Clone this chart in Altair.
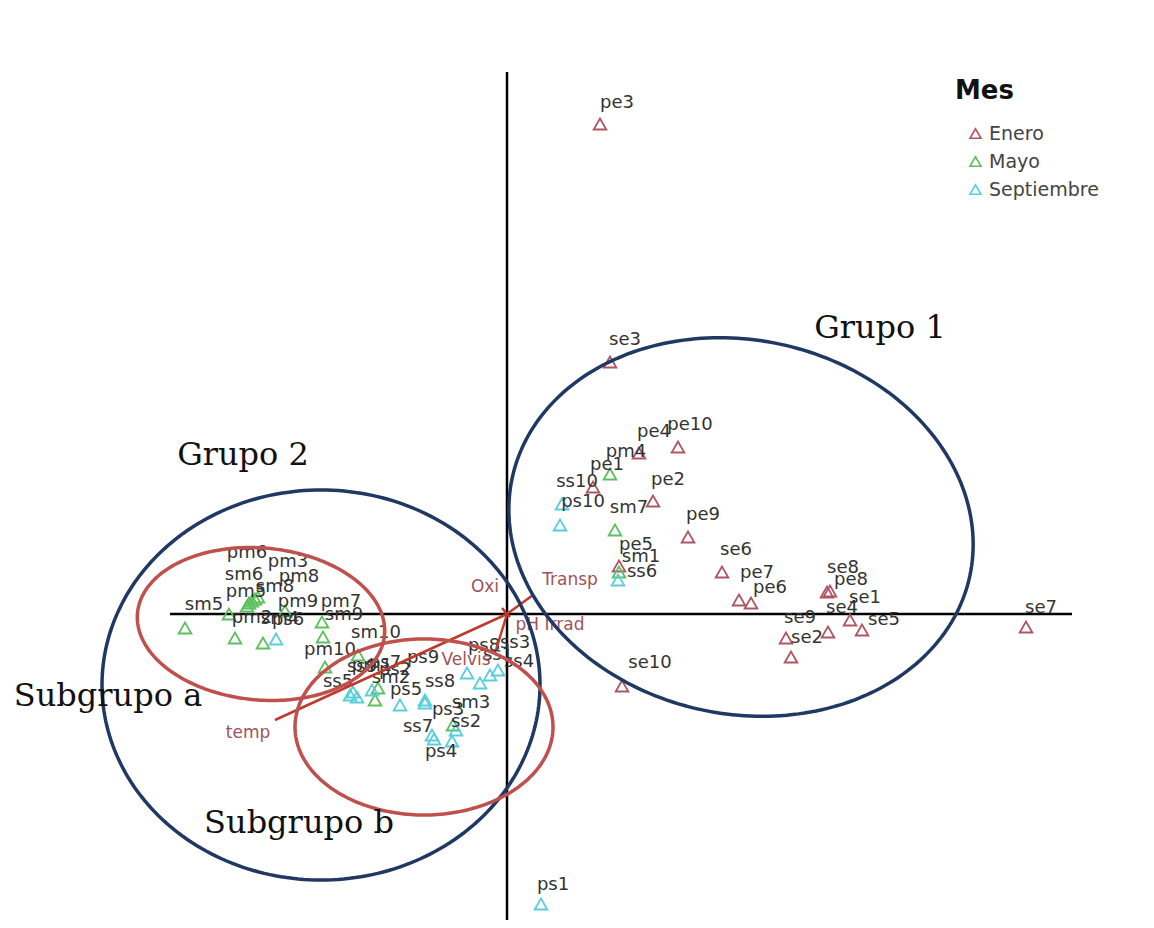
import altair as alt
import numpy as np
import pandas as pd

# ---- sample scores (axis 1, axis 2) ----
enero_ids = ["pe1", "pe2", "pe3", "pe4", "pe5", "pe6", "pe7", "pe8", "pe9", "pe10",
             "se1", "se2", "se3", "se4", "se5", "se6", "se7", "se8", "se9", "se10"]
enero_x = [0.86, 1.46, 0.93, 1.32, 1.12, 2.44, 2.32, 3.23, 1.81, 1.71,
           3.43, 2.84, 1.03, 3.21, 3.55, 2.15, 5.19, 3.20, 2.79, 1.15]
enero_y = [1.27, 1.13, 4.90, 1.61, 0.48, 0.11, 0.14, 0.23, 0.77, 1.67,
           -0.06, -0.43, 2.52, -0.18, -0.16, 0.42, -0.13, 0.22, -0.24, -0.72]
enero_lx = [1.00, 1.61, 1.10, 1.47, 1.29, 2.63, 2.50, 3.44, 1.96, 1.83,
            3.58, 3.00, 1.18, 3.35, 3.77, 2.29, 5.34, 3.36, 2.93, 1.43]
enero_ly = [1.49, 1.34, 5.11, 1.82, 0.69, 0.26, 0.41, 0.34, 0.99, 1.89,
            0.16, -0.24, 2.74, 0.06, -0.06, 0.64, 0.06, 0.46, -0.04, -0.49]

mayo_ids = ["pm1", "pm2", "pm3", "pm4", "pm5", "pm6", "pm7", "pm8", "pm9", "pm10",
            "sm1", "sm2", "sm3", "sm4", "sm5", "sm6", "sm7", "sm8", "sm9", "sm10"]
mayo_x = [-1.29, -2.72, -2.52, 1.03, -2.78, -2.58, -1.85, -2.49, -2.22, -1.82,
          1.12, -1.32, -0.54, -2.44, -3.22, -2.60, 1.08, -2.55, -1.84, -1.49]
mayo_y = [-0.74, -0.24, 0.15, 1.40, 0.00, 0.11, -0.08, 0.17, 0.03, -0.53,
          0.42, -0.86, -1.11, -0.29, -0.14, 0.08, 0.84, 0.13, -0.23, -0.41]
mayo_lx = [-1.35, -2.55, -2.19, 1.19, -2.61, -2.60, -1.66, -2.08, -2.09, -1.77,
           1.34, -1.16, -0.36, -2.27, -3.03, -2.63, 1.22, -2.32, -1.63, -1.31]
mayo_ly = [-0.52, -0.04, 0.52, 1.62, 0.22, 0.61, 0.12, 0.37, 0.12, -0.36,
           0.57, -0.64, -0.89, -0.05, 0.09, 0.39, 1.06, 0.27, -0.01, -0.19]

sept_ids = ["ps1", "ps2", "ps3", "ps4", "ps5", "ps6", "ps7", "ps8", "ps9", "ps10",
            "ss1", "ss2", "ss3", "ss4", "ss5", "ss6", "ss7", "ss8", "ss9", "ss10"]
sept_x = [0.34, -1.35, -0.73, -0.55, -1.07, -2.31, -1.50, -0.40, -0.82, 0.53,
          -0.27, -0.51, -0.17, -0.09, -1.57, 1.11, -0.75, -0.82, -1.54, 0.55]
sept_y = [-2.90, -0.76, -1.25, -1.27, -0.91, -0.25, -0.83, -0.59, -0.86, 0.89,
          -0.69, -1.16, -0.61, -0.56, -0.81, 0.34, -1.21, -0.89, -0.78, 1.10]
sept_lx = [0.46, -1.12, -0.59, -0.66, -1.01, -2.19, -1.22, -0.23, -0.84, 0.76,
           -0.09, -0.41, 0.08, 0.12, -1.69, 1.35, -0.89, -0.67, -1.45, 0.70]
sept_ly = [-2.71, -0.56, -0.96, -1.38, -0.76, -0.06, -0.49, -0.32, -0.44, 1.12,
           -0.41, -1.08, -0.29, -0.48, -0.68, 0.42, -1.13, -0.68, -0.53, 1.32]

months = ["Enero", "Mayo", "Septiembre"]
month_colors = ["#b05562", "#5dbf5d", "#57cfdc"]

# ---- environmental vectors ----
var_names = ["Transp", "temp", "Oxi", "pH Irrad", "Velvis"]
var_x = [0.26, -2.32, -0.05, 0.03, -0.11]
var_y = [0.19, -1.06, 0.06, -0.03, -0.36]
var_lx = [0.63, -2.59, -0.22, 0.43, -0.41]
var_ly = [0.34, -1.19, 0.27, -0.11, -0.46]

# ---- groups (ellipses: centre, semi-axes, rotation in degrees) ----
grp_names = ["Grupo 1", "Grupo 2", "Subgrupo a", "Subgrupo b"]
grp_cx = [2.34, -1.86, -2.46, -0.83]
grp_cy = [0.87, -0.71, -0.10, -1.13]
grp_a = [2.34, 2.19, 1.24, 1.29]
grp_b = [1.87, 1.95, 0.76, 0.88]
grp_rot = [-12, 0, -5, 0]
grp_kind = ["main", "main", "sub", "sub"]
grp_lx = [3.73, -2.64, -3.99, -2.08]
grp_ly = [2.86, 1.59, -0.82, -2.09]

# ---- tables ----
pts = pd.concat([
    pd.DataFrame({"id": enero_ids, "Mes": "Enero", "x": enero_x, "y": enero_y,
                  "lx": enero_lx, "ly": enero_ly}),
    pd.DataFrame({"id": mayo_ids, "Mes": "Mayo", "x": mayo_x, "y": mayo_y,
                  "lx": mayo_lx, "ly": mayo_ly}),
    pd.DataFrame({"id": sept_ids, "Mes": "Septiembre", "x": sept_x, "y": sept_y,
                  "lx": sept_lx, "ly": sept_ly}),
], ignore_index=True)

vars_df = pd.DataFrame({"name": var_names, "x0": 0.0, "y0": 0.0, "x": var_x, "y": var_y,
                        "lx": var_lx, "ly": var_ly})

rows = []
t = np.linspace(0, 2 * np.pi, 241)
for n, cx, cy, a, b, r, k in zip(grp_names, grp_cx, grp_cy, grp_a, grp_b, grp_rot, grp_kind):
    th = np.deg2rad(r)
    ex = cx + a * np.cos(t) * np.cos(th) - b * np.sin(t) * np.sin(th)
    ey = cy + a * np.cos(t) * np.sin(th) + b * np.sin(t) * np.cos(th)
    for i, (u, v) in enumerate(zip(ex, ey)):
        rows.append({"name": n, "kind": k, "i": i, "x": u, "y": v})
ell = pd.DataFrame(rows)
grp_df = pd.DataFrame({"name": grp_names, "x": grp_lx, "y": grp_ly})

axes_df = pd.DataFrame({"x": [0.0, -3.37], "y": [-3.06, 0.0],
                        "x2": [0.0, 5.65], "y2": [5.42, 0.0]})

xs = alt.Scale(domain=[-4.99, 6.39], nice=False, zero=False)
ys = alt.Scale(domain=[-3.06, 6.06], nice=False, zero=False)
X = lambda f: alt.X(f, type="quantitative", scale=xs, axis=None)
Y = lambda f: alt.Y(f, type="quantitative", scale=ys, axis=None)

axes_layer = alt.Chart(axes_df).mark_rule(color="#000000", strokeWidth=2.5).encode(
    x=X("x"), y=Y("y"), x2="x2", y2="y2")

points = alt.Chart(pts).mark_point(shape="triangle-up", filled=False, size=160,
                                   strokeWidth=1.8, opacity=1).encode(
    x=X("x"), y=Y("y"),
    color=alt.Color("Mes:N", scale=alt.Scale(domain=months, range=month_colors),
                    legend=alt.Legend(title="Mes", orient="none", legendX=947, legendY=70,
                                      padding=0, titleFont="DejaVu Sans", titleFontSize=26,
                                      titleFontWeight="bold", titleColor="#111111",
                                      titlePadding=20, labelFont="DejaVu Sans",
                                      labelFontSize=19, labelColor="#444444",
                                      symbolType="triangle-up", symbolSize=120,
                                      symbolStrokeWidth=1.6, symbolOffset=11,
                                      rowPadding=8, labelOffset=4)))

labels = alt.Chart(pts).mark_text(font="DejaVu Sans", fontSize=18, color="#333333",
                                  baseline="middle", align="center").encode(
    x=X("lx"), y=Y("ly"), text="id:N")

arrows = alt.Chart(vars_df).mark_rule(color="#c0392b", strokeWidth=2.5).encode(
    x=X("x0"), y=Y("y0"), x2="x", y2="y")
arrow_labels = alt.Chart(vars_df).mark_text(font="DejaVu Sans", fontSize=17,
                                            color="#a0525a", baseline="middle",
                                            align="center").encode(
    x=X("lx"), y=Y("ly"), text="name:N")

ell_main = alt.Chart(ell).transform_filter(alt.datum.kind == "main").mark_line(
    strokeWidth=3.5, color="#1f3864").encode(x=X("x"), y=Y("y"), detail="name:N", order="i:Q")
ell_sub = alt.Chart(ell).transform_filter(alt.datum.kind == "sub").mark_line(
    strokeWidth=3.5, color="#c0504d").encode(x=X("x"), y=Y("y"), detail="name:N", order="i:Q")

grp_text = alt.Chart(grp_df).mark_text(font="DejaVu Serif", fontSize=32, color="#111111",
                                       baseline="middle", align="center").encode(
    x=X("x"), y=Y("y"), text="name:N")

chart = alt.layer(axes_layer, points, labels, arrows, arrow_labels, ell_main, ell_sub,
                  grp_text).properties(
    width=1138, height=912, padding=0, autosize=alt.AutoSizeParams(type="none"),
    background="white").configure_view(stroke=None)

chart.save("out.html", embed_options={"renderer": "svg", "actions": False})
